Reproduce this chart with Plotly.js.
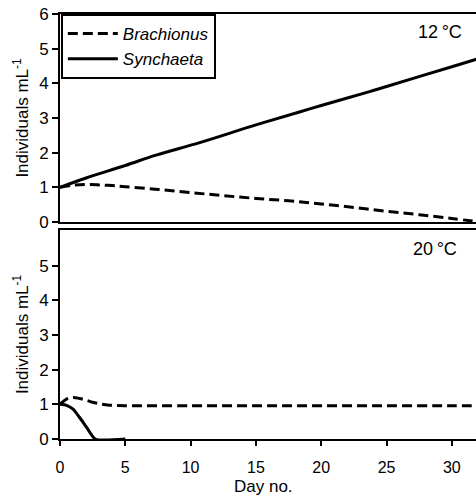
<!DOCTYPE html>
<html>
<head>
<meta charset="utf-8">
<script src="https://cdn.plot.ly/plotly-3.0.1.min.js"></script>
<style>html,body{margin:0;padding:0;background:#fff;}#chart{width:476px;height:496px;}</style>
</head>
<body>
<div id="chart"></div>
<script>
// 12 °C panel
const days12Brach = [0, 1, 2, 3, 4, 5, 7.5, 10, 12.5, 15, 17.5, 20, 22.5, 25, 27.5, 30, 32];
const brach12 = [1.0, 1.06, 1.08, 1.07, 1.05, 1.02, 0.94, 0.85, 0.76, 0.68, 0.61, 0.52, 0.42, 0.31, 0.21, 0.10, 0.01];
const days12Syn = [0, 2, 5, 7.35, 10.7, 15, 18.4, 20, 23.7, 25, 30, 32];
const syn12 = [1.0, 1.27, 1.63, 1.93, 2.29, 2.80, 3.18, 3.36, 3.76, 3.91, 4.48, 4.71];
// 20 °C panel
const days20Brach = [0, 0.5, 1, 1.5, 2, 2.5, 3, 3.5, 4, 5, 10, 15, 20, 25, 30, 32];
const brach20 = [1.0, 1.15, 1.2, 1.17, 1.12, 1.06, 1.02, 0.99, 0.97, 0.96, 0.96, 0.96, 0.96, 0.96, 0.96, 0.96];
const days20Syn = [0, 0.5, 1, 1.5, 2, 2.7, 5];
const syn20 = [1.0, 0.97, 0.86, 0.62, 0.36, 0, 0];

const seriesNames = ['<i>Brachionus</i>', '<i>Synchaeta</i>'];
const panelLabels = ['12\u2009°C', '20\u2009°C'];
const xTicks = [0, 5, 10, 15, 20, 25, 30];
const yTicksTop = [0, 1, 2, 3, 4, 5, 6];
const yTicksBottom = [0, 1, 2, 3, 4, 5];

const FONT = 'Arial, "Liberation Sans", sans-serif';
const dashStyle = '10px,5px';

const traces = [
  {x: days12Brach, y: brach12, xaxis: 'x', yaxis: 'y', mode: 'lines', name: seriesNames[0],
   line: {color: '#000', width: 3, dash: dashStyle, shape: 'spline'}, legendgroup: 'b'},
  {x: days12Syn, y: syn12, xaxis: 'x', yaxis: 'y', mode: 'lines', name: seriesNames[1],
   line: {color: '#000', width: 3, shape: 'spline'}, legendgroup: 's'},
  {x: days20Brach, y: brach20, xaxis: 'x2', yaxis: 'y2', mode: 'lines', name: seriesNames[0],
   line: {color: '#000', width: 3, dash: dashStyle, shape: 'spline'}, showlegend: false},
  {x: days20Syn, y: syn20, xaxis: 'x2', yaxis: 'y2', mode: 'lines', name: seriesNames[1],
   line: {color: '#000', width: 3, shape: 'spline', smoothing: 0.6}, showlegend: false}
];

const tickFont = {family: FONT, size: 17, color: '#000'};
const xTickFont = {family: FONT, size: 16, color: '#000'};
const yTitle = {text: 'Individuals mL<sup>-1</sup>', font: {family: FONT, size: 17, color: '#000'}, standoff: 6};

const layout = {
  width: 476, height: 496,
  margin: {l: 60, r: 0, t: 14, b: 57},
  paper_bgcolor: '#fff', plot_bgcolor: '#fff',
  showlegend: true,
  legend: {x: 0.002, y: 1, xanchor: 'left', yanchor: 'top', xref: 'paper', yref: 'paper',
           bordercolor: '#000', borderwidth: 2, bgcolor: '#fff',
           font: {family: FONT, size: 17, color: '#000'}, itemwidth: 50, tracegroupgap: 0},
  xaxis: {domain: [0, 1], anchor: 'y', range: [0, 31.85], showline: true, linecolor: '#000', linewidth: 2,
          mirror: true, showgrid: false, zeroline: false, ticks: '', showticklabels: false},
  yaxis: {domain: [0.5106, 1], anchor: 'x', range: [0, 6], tickvals: yTicksTop, ticktext: yTicksTop.map(String),
          showline: true, linecolor: '#000', linewidth: 2, showgrid: false, zeroline: false,
          ticks: 'outside', ticklen: 6, tickwidth: 2, tickcolor: '#000', tickfont: tickFont, title: yTitle},
  xaxis2: {domain: [0, 1], anchor: 'y2', range: [0, 31.85], tickvals: xTicks, ticktext: xTicks.map(String),
           showline: true, linecolor: '#000', linewidth: 2, mirror: true, showgrid: false, zeroline: false,
           ticks: 'outside', ticklen: 5, tickwidth: 2, tickcolor: '#000', tickfont: xTickFont, ticklabelstandoff: 8},
  yaxis2: {domain: [0, 0.4918], anchor: 'x2', range: [0, 6.03], tickvals: yTicksBottom, ticktext: yTicksBottom.map(String),
           showline: true, linecolor: '#000', linewidth: 2, showgrid: false, zeroline: false,
           ticks: 'outside', ticklen: 6, tickwidth: 2, tickcolor: '#000', tickfont: tickFont, title: yTitle},
  annotations: [
    {text: panelLabels[0], xref: 'paper', yref: 'paper', x: 0.97, y: 0.958, xanchor: 'right', yanchor: 'middle',
     showarrow: false, font: {family: FONT, size: 18, color: '#000'}},
    {text: panelLabels[1], xref: 'paper', yref: 'paper', x: 0.96, y: 0.447, xanchor: 'right', yanchor: 'middle',
     showarrow: false, font: {family: FONT, size: 18, color: '#000'}},
    {text: 'Day no.', xref: 'paper', yref: 'paper', x: 0.49, y: -0.111, xanchor: 'center', yanchor: 'middle',
     showarrow: false, font: {family: FONT, size: 17, color: '#000'}}
  ]
};

Plotly.newPlot('chart', traces, layout, {staticPlot: true, displayModeBar: false});
</script>
</body>
</html>
